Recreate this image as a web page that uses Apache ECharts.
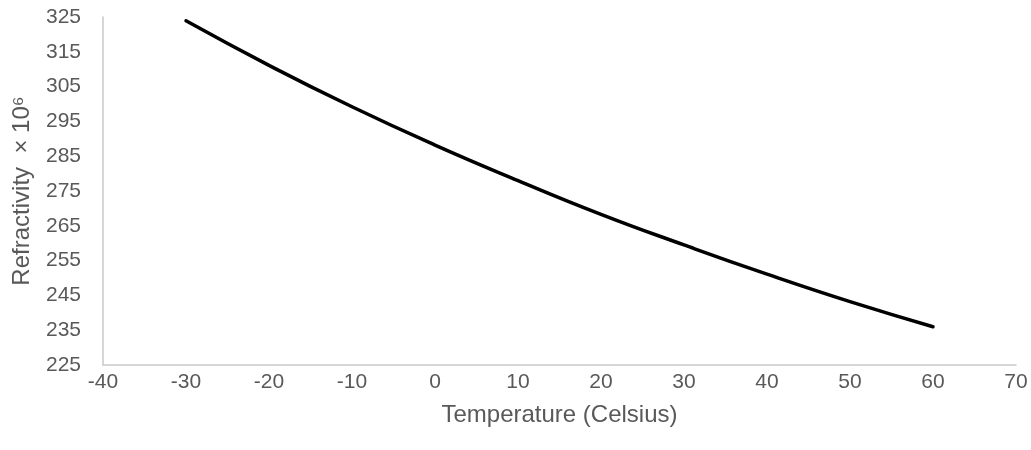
<!DOCTYPE html>
<html>
<head>
<meta charset="utf-8">
<script src="https://cdn.jsdelivr.net/npm/echarts@6/dist/echarts.min.js"></script>
<style>
html,body{margin:0;padding:0;background:#fff;}
#chart{width:1031px;height:450px;}
</style>
</head>
<body>
<div id="chart"></div>
<script>
const temperatures = [-30, -20, -10, 0, 10, 20, 30, 40, 50, 60];
const refractivity = [323.9, 311.1, 299.2, 288.2, 278.0, 268.3, 259.5, 251.1, 243.2, 236.0];
const xTicks = { min: -40, max: 70, step: 10 };
const yTicks = { min: 225, max: 325, step: 10 };
const xTitle = 'Temperature (Celsius)';
const yTitle = 'Refractivity  × 10⁶';

const font = 'Liberation Sans';
const chart = echarts.init(document.getElementById('chart'), null, { renderer: 'canvas' });
chart.setOption({
  backgroundColor: '#ffffff',
  animation: false,
  grid: { left: 103, right: 15, top: 17, bottom: 85, containLabel: false },
  xAxis: {
    type: 'value',
    min: xTicks.min, max: xTicks.max, interval: xTicks.step,
    name: xTitle, nameLocation: 'middle', nameGap: 38,
    nameTextStyle: { color: '#595959', fontSize: 24, fontFamily: font },
    axisLine: { show: true, onZero: false, lineStyle: { color: '#c9c9c9', width: 1.5 } },
    axisTick: { show: false },
    splitLine: { show: false },
    axisLabel: { color: '#595959', fontSize: 21, fontFamily: font, margin: 7 }
  },
  yAxis: {
    type: 'value',
    min: yTicks.min, max: yTicks.max, interval: yTicks.step / 2,
    name: yTitle, nameLocation: 'middle', nameGap: 69,
    nameTextStyle: { color: '#595959', fontSize: 24, fontFamily: font },
    axisLine: { show: true, onZero: false, lineStyle: { color: '#c9c9c9', width: 1.5 } },
    axisTick: { show: false },
    splitLine: { show: false },
    axisLabel: {
      color: '#595959', fontSize: 21, fontFamily: font, margin: 22,
      formatter: v => (Math.round(v - yTicks.min) % yTicks.step === 0 ? String(v) : '')
    }
  },
  series: [{
    type: 'line',
    data: temperatures.map((t, i) => [t, refractivity[i]]),
    smooth: true,
    showSymbol: false,
    lineStyle: { color: '#000000', width: 3.5, cap: 'round' },
    itemStyle: { color: '#000000' }
  }]
});
</script>
</body>
</html>
